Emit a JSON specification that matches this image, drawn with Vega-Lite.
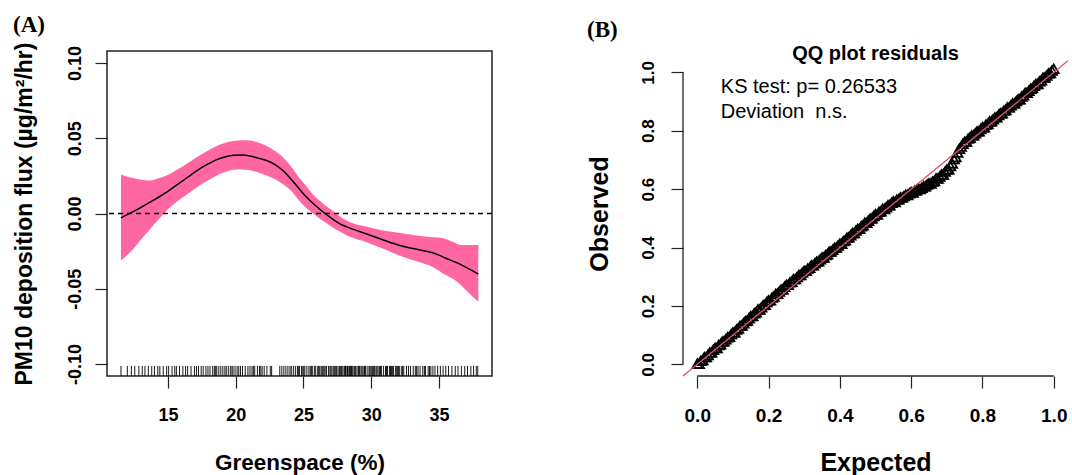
{
  "$schema": "https://vega.github.io/schema/vega-lite/v6.json",
  "background": "white",
  "padding": {"left": 12, "top": 13, "right": 0, "bottom": 0},
  "spacing": 191,
  "bounds": "flush",
  "config": {
    "font": "Liberation Sans",
    "view": {"stroke": null},
    "axis": {
      "grid": false, "domain": false, "tickSize": 12, "tickColor": "#222", "tickWidth": 1.2,
      "labelFont": "Liberation Sans", "labelFontWeight": "bold", "labelColor": "black",
      "titleFont": "Liberation Sans", "titleFontWeight": "bold", "titleColor": "black"
    }
  },
  "hconcat": [
    {
      "width": 385, "height": 325,
      "title": {"text": "(A)", "font": "Liberation Serif", "fontSize": 23, "fontWeight": "bold", "color": "black", "anchor": "start", "frame": "bounds", "offset": 5},
      "view": {"stroke": "#222", "strokeWidth": 1.5},
      "data": {"values": [
        {"g": 11.53, "fit": -0.0029, "lo": -0.0313, "hi": 0.026},
        {"g": 12.0, "fit": -0.0008, "lo": -0.0275, "hi": 0.0245},
        {"g": 12.44, "fit": 0.0013, "lo": -0.0236, "hi": 0.0236},
        {"g": 13.0, "fit": 0.004, "lo": -0.0175, "hi": 0.0225},
        {"g": 13.67, "fit": 0.0075, "lo": -0.0105, "hi": 0.022},
        {"g": 14.3, "fit": 0.0108, "lo": -0.004, "hi": 0.0235},
        {"g": 14.9, "fit": 0.0142, "lo": 0.002, "hi": 0.0253},
        {"g": 15.5, "fit": 0.018, "lo": 0.0068, "hi": 0.0283},
        {"g": 16.13, "fit": 0.022, "lo": 0.0109, "hi": 0.0316},
        {"g": 16.75, "fit": 0.026, "lo": 0.015, "hi": 0.0352},
        {"g": 17.36, "fit": 0.0298, "lo": 0.0187, "hi": 0.0387},
        {"g": 18.0, "fit": 0.0331, "lo": 0.0222, "hi": 0.042},
        {"g": 18.6, "fit": 0.0358, "lo": 0.0253, "hi": 0.0449},
        {"g": 19.2, "fit": 0.0376, "lo": 0.0275, "hi": 0.0469},
        {"g": 19.82, "fit": 0.0387, "lo": 0.0291, "hi": 0.0482},
        {"g": 20.45, "fit": 0.0388, "lo": 0.0292, "hi": 0.0487},
        {"g": 21.05, "fit": 0.0382, "lo": 0.0287, "hi": 0.0485},
        {"g": 21.65, "fit": 0.0368, "lo": 0.0273, "hi": 0.0472},
        {"g": 22.28, "fit": 0.0352, "lo": 0.0253, "hi": 0.0448},
        {"g": 22.9, "fit": 0.0325, "lo": 0.0228, "hi": 0.0415},
        {"g": 23.5, "fit": 0.0284, "lo": 0.0195, "hi": 0.0372},
        {"g": 24.12, "fit": 0.0224, "lo": 0.0148, "hi": 0.0308},
        {"g": 24.74, "fit": 0.0158, "lo": 0.008, "hi": 0.0232},
        {"g": 25.11, "fit": 0.012, "lo": 0.0045, "hi": 0.0192},
        {"g": 25.72, "fit": 0.0066, "lo": 0.0, "hi": 0.0125},
        {"g": 26.2, "fit": 0.0028, "lo": -0.0035, "hi": 0.0085},
        {"g": 26.59, "fit": 0.0, "lo": -0.0058, "hi": 0.0055},
        {"g": 27.2, "fit": -0.004, "lo": -0.0095, "hi": 0.0015},
        {"g": 27.94, "fit": -0.008, "lo": -0.0133, "hi": -0.0035},
        {"g": 28.43, "fit": -0.0097, "lo": -0.0155, "hi": -0.0058},
        {"g": 29.66, "fit": -0.0136, "lo": -0.0191, "hi": -0.0088},
        {"g": 30.89, "fit": -0.0176, "lo": -0.0235, "hi": -0.0113},
        {"g": 32.12, "fit": -0.0213, "lo": -0.028, "hi": -0.013},
        {"g": 33.35, "fit": -0.0238, "lo": -0.0318, "hi": -0.0147},
        {"g": 34.58, "fit": -0.0262, "lo": -0.0358, "hi": -0.0158},
        {"g": 35.32, "fit": -0.029, "lo": -0.04, "hi": -0.0164},
        {"g": 36.06, "fit": -0.0318, "lo": -0.0436, "hi": -0.019},
        {"g": 36.55, "fit": -0.0336, "lo": -0.047, "hi": -0.0209},
        {"g": 37.04, "fit": -0.036, "lo": -0.0513, "hi": -0.021},
        {"g": 37.45, "fit": -0.038, "lo": -0.055, "hi": -0.021},
        {"g": 37.9, "fit": -0.0402, "lo": -0.0587, "hi": -0.0209}
      ]},
      "layer": [
        {
          "mark": {"type": "area", "color": "#FF67A3", "opacity": 1, "interpolate": "monotone"},
          "encoding": {
            "x": {"field": "g", "type": "quantitative", "title": "Greenspace (%)",
              "scale": {"domain": [10.5, 38.91], "nice": false, "zero": false},
              "axis": {"values": [15, 20, 25, 30, 35], "labelFontSize": 18, "labelPadding": 18, "titleFontSize": 22.5, "titlePadding": 27}},
            "y": {"field": "lo", "type": "quantitative", "title": "PM10 deposition flux (µg/m²/hr)",
              "scale": {"domain": [-0.108, 0.108], "nice": false, "zero": false},
              "axis": {"values": [-0.1, -0.05, 0, 0.05, 0.1], "labelExpr": "replace(format(datum.value, '.2f'), '\u2212', '-')",
                "labelAngle": -90, "labelAlign": "center", "labelBaseline": "alphabetic", "labelFontSize": 18, "labelPadding": 15,
                "titleFontSize": 23, "titlePadding": 30}},
            "y2": {"field": "hi"}
          }
        },
        {
          "mark": {"type": "line", "color": "black", "strokeWidth": 1.5, "interpolate": "monotone"},
          "encoding": {
            "x": {"field": "g", "type": "quantitative", "title": "Greenspace (%)"},
            "y": {"field": "fit", "type": "quantitative", "title": "PM10 deposition flux (µg/m²/hr)"}
          }
        },
        {
          "data": {"values": [{}]},
          "mark": {"type": "rule", "color": "black", "strokeWidth": 1.3, "strokeDash": [5, 4]},
          "encoding": {"y": {"datum": 0}}
        },
        {
          "data": {"values": [
            {"g": 11.53}, {"g": 12.0}, {"g": 12.3}, {"g": 12.55}, {"g": 12.85}, {"g": 13.1}, {"g": 13.3}, {"g": 13.55}, {"g": 13.8}, {"g": 14.0},
            {"g": 14.25}, {"g": 14.4}, {"g": 14.65}, {"g": 14.9}, {"g": 15.05}, {"g": 15.3}, {"g": 15.5}, {"g": 15.62}, {"g": 15.85}, {"g": 16.1},
            {"g": 16.3}, {"g": 16.45}, {"g": 16.7}, {"g": 16.95}, {"g": 17.1}, {"g": 17.25}, {"g": 17.45}, {"g": 17.6}, {"g": 17.8}, {"g": 17.95},
            {"g": 18.1}, {"g": 18.3}, {"g": 18.42}, {"g": 18.52}, {"g": 18.6}, {"g": 18.75}, {"g": 18.9}, {"g": 19.05}, {"g": 19.2}, {"g": 19.3}, {"g": 19.45},
            {"g": 19.6}, {"g": 19.72}, {"g": 19.8}, {"g": 19.95}, {"g": 20.1}, {"g": 20.22}, {"g": 20.35}, {"g": 20.5}, {"g": 20.7}, {"g": 20.9}, {"g": 21.05}, {"g": 21.2},
            {"g": 21.3}, {"g": 21.4}, {"g": 21.6}, {"g": 21.75}, {"g": 21.85}, {"g": 21.95}, {"g": 22.1}, {"g": 22.3}, {"g": 22.55}, {"g": 22.65},
            {"g": 23.25}, {"g": 23.4}, {"g": 23.55}, {"g": 23.7}, {"g": 23.85}, {"g": 24.0}, {"g": 24.1}, {"g": 24.25}, {"g": 24.4}, {"g": 24.55},
            {"g": 24.62}, {"g": 24.7}, {"g": 24.85}, {"g": 24.95}, {"g": 25.02}, {"g": 25.1}, {"g": 25.25}, {"g": 25.4}, {"g": 25.5}, {"g": 25.58}, {"g": 25.65}, {"g": 25.8}, {"g": 25.9},
            {"g": 26.05}, {"g": 26.12}, {"g": 26.2}, {"g": 26.3}, {"g": 26.38}, {"g": 26.45}, {"g": 26.52}, {"g": 26.6}, {"g": 26.7}, {"g": 26.85}, {"g": 26.95}, {"g": 27.02}, {"g": 27.1}, {"g": 27.2},
            {"g": 27.3}, {"g": 27.38}, {"g": 27.45}, {"g": 27.55}, {"g": 27.65}, {"g": 27.72}, {"g": 27.8}, {"g": 27.9}, {"g": 28.0}, {"g": 28.05}, {"g": 28.1}, {"g": 28.2}, {"g": 28.25}, {"g": 28.3},
            {"g": 28.4}, {"g": 28.45}, {"g": 28.5}, {"g": 28.55}, {"g": 28.6}, {"g": 28.72}, {"g": 28.78}, {"g": 28.85}, {"g": 28.95}, {"g": 29.05}, {"g": 29.1}, {"g": 29.15}, {"g": 29.25}, {"g": 29.32}, {"g": 29.4},
            {"g": 29.5}, {"g": 29.55}, {"g": 29.6}, {"g": 29.75}, {"g": 29.85}, {"g": 29.92}, {"g": 30.0}, {"g": 30.1}, {"g": 30.18}, {"g": 30.25}, {"g": 30.35}, {"g": 30.42}, {"g": 30.5}, {"g": 30.6},
            {"g": 30.68}, {"g": 30.75}, {"g": 30.9}, {"g": 31.05}, {"g": 31.12}, {"g": 31.2}, {"g": 31.35}, {"g": 31.42}, {"g": 31.5}, {"g": 31.58}, {"g": 31.65}, {"g": 31.8}, {"g": 31.88}, {"g": 31.95}, {"g": 32.02}, {"g": 32.1},
            {"g": 32.25}, {"g": 32.32}, {"g": 32.4}, {"g": 32.6}, {"g": 32.75}, {"g": 32.9}, {"g": 33.1}, {"g": 33.25}, {"g": 33.35}, {"g": 33.45}, {"g": 33.6}, {"g": 33.8},
            {"g": 33.92}, {"g": 34.0}, {"g": 34.2}, {"g": 34.3}, {"g": 34.4}, {"g": 34.55}, {"g": 34.7}, {"g": 34.9}, {"g": 35.1}, {"g": 35.3}, {"g": 35.5}, {"g": 35.7},
            {"g": 35.95}, {"g": 36.2}, {"g": 36.4}, {"g": 36.65}, {"g": 36.9}, {"g": 37.1}, {"g": 37.35}, {"g": 37.55}, {"g": 37.75}, {"g": 37.86}
          ]},
          "mark": {"type": "rule", "color": "black", "strokeWidth": 1, "opacity": 0.9},
          "encoding": {
            "x": {"field": "g", "type": "quantitative", "title": "Greenspace (%)"},
            "y": {"datum": -0.108},
            "y2": {"datum": -0.1013}
          }
        }
      ]
    },
    {
      "width": 385, "height": 325,
      "title": {"text": "(B)", "font": "Liberation Serif", "fontSize": 23, "fontWeight": "bold", "color": "black", "anchor": "start", "frame": "bounds", "offset": 2},
      "view": {"stroke": null},
      "data": {"values": [
        {"e": 0.0, "o": 0.002}, {"e": 0.005, "o": 0.002}, {"e": 0.01, "o": 0.012}, {"e": 0.015, "o": 0.015}, {"e": 0.02, "o": 0.025},
        {"e": 0.025, "o": 0.025}, {"e": 0.03, "o": 0.032}, {"e": 0.035, "o": 0.04}, {"e": 0.04, "o": 0.041}, {"e": 0.045, "o": 0.05},
        {"e": 0.05, "o": 0.056}, {"e": 0.055, "o": 0.056}, {"e": 0.06, "o": 0.066}, {"e": 0.065, "o": 0.069}, {"e": 0.07, "o": 0.078},
        {"e": 0.075, "o": 0.079}, {"e": 0.08, "o": 0.086}, {"e": 0.085, "o": 0.093}, {"e": 0.09, "o": 0.094}, {"e": 0.095, "o": 0.103},
        {"e": 0.1, "o": 0.109}, {"e": 0.105, "o": 0.11}, {"e": 0.11, "o": 0.119}, {"e": 0.115, "o": 0.123}, {"e": 0.12, "o": 0.132},
        {"e": 0.125, "o": 0.133}, {"e": 0.13, "o": 0.141}, {"e": 0.135, "o": 0.148}, {"e": 0.14, "o": 0.15}, {"e": 0.145, "o": 0.158},
        {"e": 0.15, "o": 0.165}, {"e": 0.155, "o": 0.165}, {"e": 0.16, "o": 0.175}, {"e": 0.165, "o": 0.178}, {"e": 0.17, "o": 0.188},
        {"e": 0.175, "o": 0.188}, {"e": 0.18, "o": 0.195}, {"e": 0.185, "o": 0.203}, {"e": 0.19, "o": 0.204}, {"e": 0.195, "o": 0.213},
        {"e": 0.2, "o": 0.219}, {"e": 0.205, "o": 0.219}, {"e": 0.21, "o": 0.229}, {"e": 0.215, "o": 0.232}, {"e": 0.22, "o": 0.241},
        {"e": 0.225, "o": 0.242}, {"e": 0.23, "o": 0.249}, {"e": 0.235, "o": 0.256}, {"e": 0.24, "o": 0.257}, {"e": 0.245, "o": 0.266},
        {"e": 0.25, "o": 0.272}, {"e": 0.255, "o": 0.272}, {"e": 0.26, "o": 0.281}, {"e": 0.265, "o": 0.283}, {"e": 0.27, "o": 0.292},
        {"e": 0.275, "o": 0.292}, {"e": 0.28, "o": 0.299}, {"e": 0.285, "o": 0.306}, {"e": 0.29, "o": 0.306}, {"e": 0.295, "o": 0.314},
        {"e": 0.3, "o": 0.32}, {"e": 0.305, "o": 0.32}, {"e": 0.31, "o": 0.328}, {"e": 0.315, "o": 0.331}, {"e": 0.32, "o": 0.339},
        {"e": 0.325, "o": 0.339}, {"e": 0.33, "o": 0.346}, {"e": 0.335, "o": 0.352}, {"e": 0.34, "o": 0.353}, {"e": 0.345, "o": 0.36},
        {"e": 0.35, "o": 0.366}, {"e": 0.355, "o": 0.366}, {"e": 0.36, "o": 0.374}, {"e": 0.365, "o": 0.377}, {"e": 0.37, "o": 0.386},
        {"e": 0.375, "o": 0.386}, {"e": 0.38, "o": 0.392}, {"e": 0.385, "o": 0.399}, {"e": 0.39, "o": 0.4}, {"e": 0.395, "o": 0.407},
        {"e": 0.4, "o": 0.413}, {"e": 0.405, "o": 0.413}, {"e": 0.41, "o": 0.422}, {"e": 0.415, "o": 0.425}, {"e": 0.42, "o": 0.434},
        {"e": 0.425, "o": 0.435}, {"e": 0.43, "o": 0.442}, {"e": 0.435, "o": 0.449}, {"e": 0.44, "o": 0.45}, {"e": 0.445, "o": 0.458},
        {"e": 0.45, "o": 0.464}, {"e": 0.455, "o": 0.464}, {"e": 0.46, "o": 0.473}, {"e": 0.465, "o": 0.476}, {"e": 0.47, "o": 0.485},
        {"e": 0.475, "o": 0.485}, {"e": 0.48, "o": 0.492}, {"e": 0.485, "o": 0.499}, {"e": 0.49, "o": 0.5}, {"e": 0.495, "o": 0.508},
        {"e": 0.5, "o": 0.514}, {"e": 0.505, "o": 0.513}, {"e": 0.51, "o": 0.522}, {"e": 0.515, "o": 0.524}, {"e": 0.52, "o": 0.533},
        {"e": 0.525, "o": 0.532}, {"e": 0.53, "o": 0.538}, {"e": 0.535, "o": 0.545}, {"e": 0.54, "o": 0.545}, {"e": 0.545, "o": 0.553},
        {"e": 0.55, "o": 0.558}, {"e": 0.555, "o": 0.556}, {"e": 0.56, "o": 0.564}, {"e": 0.565, "o": 0.565}, {"e": 0.57, "o": 0.572},
        {"e": 0.575, "o": 0.571}, {"e": 0.58, "o": 0.576}, {"e": 0.585, "o": 0.581}, {"e": 0.59, "o": 0.58}, {"e": 0.595, "o": 0.586},
        {"e": 0.6, "o": 0.59}, {"e": 0.605, "o": 0.588}, {"e": 0.61, "o": 0.595}, {"e": 0.615, "o": 0.596}, {"e": 0.62, "o": 0.602},
        {"e": 0.625, "o": 0.6}, {"e": 0.63, "o": 0.605}, {"e": 0.635, "o": 0.61}, {"e": 0.64, "o": 0.61}, {"e": 0.645, "o": 0.616},
        {"e": 0.65, "o": 0.62}, {"e": 0.655, "o": 0.619}, {"e": 0.66, "o": 0.626}, {"e": 0.665, "o": 0.628}, {"e": 0.67, "o": 0.637},
        {"e": 0.675, "o": 0.636}, {"e": 0.68, "o": 0.643}, {"e": 0.685, "o": 0.65}, {"e": 0.69, "o": 0.65}, {"e": 0.695, "o": 0.66},
        {"e": 0.7, "o": 0.667}, {"e": 0.705, "o": 0.668}, {"e": 0.71, "o": 0.679}, {"e": 0.715, "o": 0.688}, {"e": 0.72, "o": 0.703},
        {"e": 0.725, "o": 0.71}, {"e": 0.73, "o": 0.725}, {"e": 0.735, "o": 0.738}, {"e": 0.74, "o": 0.746}, {"e": 0.745, "o": 0.755},
        {"e": 0.75, "o": 0.762}, {"e": 0.755, "o": 0.763}, {"e": 0.76, "o": 0.773}, {"e": 0.765, "o": 0.776}, {"e": 0.77, "o": 0.784},
        {"e": 0.775, "o": 0.784}, {"e": 0.78, "o": 0.791}, {"e": 0.785, "o": 0.798}, {"e": 0.79, "o": 0.798}, {"e": 0.795, "o": 0.806},
        {"e": 0.8, "o": 0.812}, {"e": 0.805, "o": 0.812}, {"e": 0.81, "o": 0.821}, {"e": 0.815, "o": 0.823}, {"e": 0.82, "o": 0.832},
        {"e": 0.825, "o": 0.832}, {"e": 0.83, "o": 0.839}, {"e": 0.835, "o": 0.846}, {"e": 0.84, "o": 0.846}, {"e": 0.845, "o": 0.854},
        {"e": 0.85, "o": 0.86}, {"e": 0.855, "o": 0.86}, {"e": 0.86, "o": 0.869}, {"e": 0.865, "o": 0.871}, {"e": 0.87, "o": 0.88},
        {"e": 0.875, "o": 0.88}, {"e": 0.88, "o": 0.887}, {"e": 0.885, "o": 0.894}, {"e": 0.89, "o": 0.894}, {"e": 0.895, "o": 0.902},
        {"e": 0.9, "o": 0.908}, {"e": 0.905, "o": 0.908}, {"e": 0.91, "o": 0.917}, {"e": 0.915, "o": 0.921}, {"e": 0.92, "o": 0.93},
        {"e": 0.925, "o": 0.93}, {"e": 0.93, "o": 0.937}, {"e": 0.935, "o": 0.944}, {"e": 0.94, "o": 0.946}, {"e": 0.945, "o": 0.954},
        {"e": 0.95, "o": 0.96}, {"e": 0.955, "o": 0.96}, {"e": 0.96, "o": 0.969}, {"e": 0.965, "o": 0.973}, {"e": 0.97, "o": 0.982},
        {"e": 0.975, "o": 0.982}, {"e": 0.98, "o": 0.989}, {"e": 0.985, "o": 0.996}, {"e": 0.99, "o": 0.998}, {"e": 0.995, "o": 1.006},
        {"e": 1.0, "o": 1.012}
      ]},
      "layer": [
        {
          "mark": {"type": "point", "shape": "triangle-up", "filled": false, "color": "black", "size": 100, "strokeWidth": 1.8, "opacity": 1},
          "encoding": {
            "x": {"field": "e", "type": "quantitative", "title": "Expected",
              "scale": {"domain": [-0.04, 1.04], "nice": false, "zero": false},
              "axis": {"values": [0, 0.2, 0.4, 0.6, 0.8, 1.0], "format": ".1f", "labelFontSize": 19, "labelPadding": 18, "titleFontSize": 25, "titlePadding": 25}},
            "y": {"field": "o", "type": "quantitative", "title": "Observed",
              "scale": {"domain": [-0.04, 1.073], "nice": false, "zero": false},
              "axis": {"values": [0, 0.2, 0.4, 0.6, 0.8, 1.0], "format": ".1f", "labelAngle": -90, "labelAlign": "center", "labelBaseline": "alphabetic",
                "labelFontSize": 17, "labelPadding": 18, "titleFontSize": 25, "titlePadding": 27}}
          }
        },
        {
          "data": {"values": [{}]},
          "mark": {"type": "rule", "color": "#DF536B", "strokeWidth": 1.3},
          "encoding": {"x": {"datum": -0.04}, "y": {"datum": -0.04}, "x2": {"datum": 1.04}, "y2": {"datum": 1.04}}
        },
        {
          "data": {"values": [{}]},
          "mark": {"type": "rule", "color": "#222", "strokeWidth": 1.3},
          "encoding": {"x": {"datum": -0.04}, "y": {"datum": 0}, "y2": {"datum": 1}}
        },
        {
          "data": {"values": [{}]},
          "mark": {"type": "rule", "color": "#222", "strokeWidth": 1.3},
          "encoding": {"y": {"datum": -0.04}, "x": {"datum": 0}, "x2": {"datum": 1}}
        },
        {
          "data": {"values": [{}]},
          "mark": {"type": "text", "font": "Liberation Sans", "fontSize": 20, "fontWeight": "bold", "color": "black", "align": "center", "baseline": "alphabetic"},
          "encoding": {"x": {"datum": 0.5}, "y": {"datum": 1.042}, "text": {"value": "QQ plot residuals"}}
        },
        {
          "data": {"values": [{}]},
          "mark": {"type": "text", "font": "Liberation Sans", "fontSize": 20, "color": "black", "align": "left", "baseline": "alphabetic", "lineHeight": 25},
          "encoding": {"x": {"datum": 0.066}, "y": {"datum": 0.928}, "text": {"value": ["KS test: p= 0.26533", "Deviation \u00a0n.s."]}}
        }
      ]
    }
  ]
}
